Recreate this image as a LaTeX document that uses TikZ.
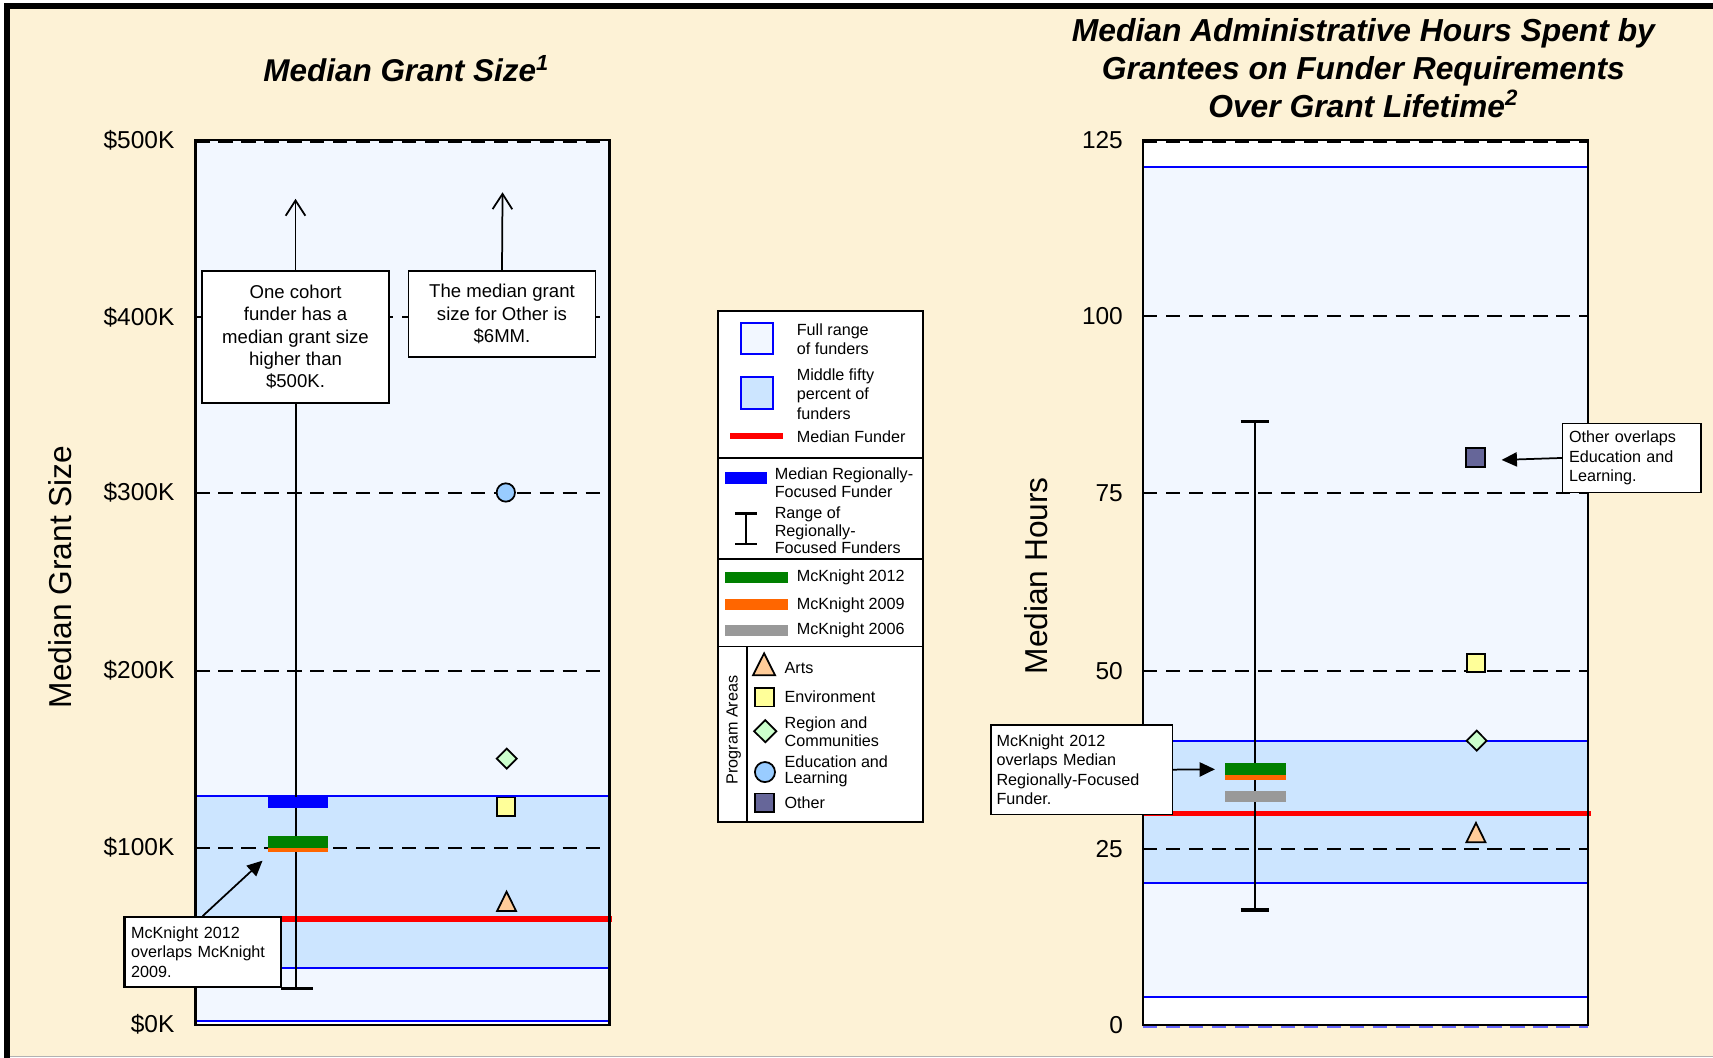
\documentclass[tikz,border=0pt]{standalone}
\usepackage{fontspec}
\setmainfont{Liberation Sans}
\usetikzlibrary{arrows.meta}
\definecolor{bgcream}{HTML}{FDF2D6}
\definecolor{lightfill}{HTML}{F2F7FF}
\definecolor{midfill}{HTML}{CCE5FF}
\definecolor{mkgreen}{HTML}{008000}
\definecolor{mkorange}{HTML}{FF6600}
\definecolor{mkgray}{HTML}{999999}
\definecolor{artsfill}{HTML}{FFCC99}
\definecolor{envfill}{HTML}{FFFF99}
\definecolor{regfill}{HTML}{CCFFCC}
\definecolor{edufill}{HTML}{99CCFF}
\definecolor{othfill}{HTML}{666699}
\begin{document}
\begin{tikzpicture}[x=0.5pt,y=-0.5pt,
  gridline/.style={black,line width=1pt,dash pattern=on 6.5pt off 4pt},
  bluebound/.style={blue,line width=0.9pt},
  medianline/.style={red,line width=2.4pt},
  rangeline/.style={black,line width=0.9pt},
  capline/.style={black,line width=1.6pt},
  plotframe/.style={black,line width=1.1pt},
  markerstyle/.style={draw=black,line width=0.8pt,line join=miter},
  ticklabel/.style={font=\fontsize{11.2}{13}\selectfont,anchor=east,inner sep=0pt},
  charttitle/.style={font=\fontsize{14.4}{17.25}\selectfont\bfseries\itshape,align=center,inner sep=0pt},
  axistitle/.style={font=\fontsize{14.5}{17}\selectfont,rotate=90,inner sep=0pt},
  legtext/.style={font=\fontsize{7.4}{8.75}\selectfont,anchor=west,align=left,inner sep=0pt},
  callbox/.style={draw=black,fill=white,line width=0.7pt,inner sep=0pt},
  notecenter/.style={callbox,align=center,font=\fontsize{8.5}{10.25}\selectfont},
  noteleft/.style={callbox,align=left,font=\fontsize{7.4}{8.8}\selectfont,inner xsep=3pt},
  callarrow/.style={black,line width=0.8pt,-{Triangle[length=7pt,width=6.5pt]}},
  openarrow/.style={black,line width=0.8pt,-{Straight Barb[length=7pt,width=9pt]}},
  legline/.style={black,line width=0.8pt}
]
\useasboundingbox (0,0) rectangle (1568,968);
% ---------- frame ----------
\fill[white] (0,0) rectangle (1568,968);
\fill[bgcream] (9,8) rectangle (1568,966.5);
\draw[gray!60,line width=0.8pt] (9,967) -- (1568,967);
\fill[black] (3.7,2.7) rectangle (1568,8.2);
\fill[black] (3.7,2.7) rectangle (9.2,968);

% ---------- titles ----------
\node[charttitle] (tL) at (372,63) {Median Grant Size\textsuperscript{1}};
\node[charttitle,font=\fontsize{14.55}{17.4}\selectfont\bfseries\itshape] (tR) at (1248,62) {Median Administrative Hours Spent by\\Grantees on Funder Requirements\\Over Grant Lifetime\textsuperscript{2}};

% ---------- left chart ----------
\fill[lightfill] (179,128) rectangle (558,938);
\fill[midfill] (179,729) rectangle (558,885.7);
\fill[white] (179,934.5) rectangle (558,938);
\draw[bluebound] (179,729) -- (558,729);
\draw[bluebound] (179,885.7) -- (558,885.7);
\draw[bluebound] (179,934.5) -- (558,934.5);
\foreach \yy in {130,290,451,614,776}{\draw[gridline] (179,\yy) -- (558,\yy);}
\draw[medianline] (179,841.2) -- (560,841.2);

\node[ticklabel] (l500) at (160,128) {\$500K};
\node[ticklabel] (l400) at (160,290) {\$400K};
\node[ticklabel] (l300) at (160,451) {\$300K};
\node[ticklabel] (l200) at (160,614) {\$200K};
\node[ticklabel] (l100) at (160,776) {\$100K};
\node[ticklabel] (l0) at (160,938) {\$0K};
\node[axistitle] (axL) at (55,528) {Median Grant Size};

% range of regionally-focused funders
\node[notecenter,minimum width=85.5pt,minimum height=60.5pt] (box1) at (270.5,308.5) {One cohort\\funder has a\\median grant size\\higher than\\\$500K.};
\coordinate (rangeLtop) at (270.5,182);
\coordinate (rangeLbot) at (270.5,905);
\draw[rangeline] (box1.south) -- (rangeLbot);
\draw[openarrow] (box1.north) -- (rangeLtop);
\draw[capline] (257.6,905) -- (286.4,905);

% bars
\fill[blue] (245.6,729.2) rectangle (300.5,739.9);
\fill[mkgreen] (245.6,765.2) rectangle (300.5,775.9);
\fill[mkorange] (245.6,775.9) rectangle (300.5,779.5);

% program area markers
\filldraw[markerstyle,fill=edufill] (463,450.8) circle[radius=4.2pt];
\filldraw[markerstyle,fill=regfill] (463.8,685.2) -- (473,694.4) -- (463.8,703.6) -- (454.6,694.4) -- cycle;
\filldraw[markerstyle,fill=envfill] (454.6,730.1) rectangle (471.1,746.9);
\filldraw[markerstyle,fill=artsfill] (463.7,816.2) -- (472.4,833.9) -- (455,833.9) -- cycle;

% note for Other
\node[notecenter,minimum width=85.5pt,minimum height=39.5pt] (box2) at (459.5,287.5) {The median grant\\size for Other is\\\$6MM.};
\coordinate (otherTop) at (460,176);
\draw[openarrow] (box2.north) -- (otherTop);

\draw[plotframe] (179,128) rectangle (558,938);

% McKnight overlap note
\node[noteleft,line width=1pt,text width=65.5pt,minimum height=32pt] (cbL) at (185.5,871.5) {McKnight 2012\\overlaps McKnight\\2009.};
\coordinate (cbLtip) at (240.3,787.8);
\draw[callarrow] (cbL.north) -- (cbLtip);

% ---------- legend ----------
\draw[legline,fill=white] (657,285) rectangle (845,752.5);
\draw[legline] (657,419) -- (845,419);
\draw[legline] (657,512) -- (845,512);
\draw[legline] (657,591.8) -- (845,591.8);
\draw[legline] (684,591.8) -- (684,752.5);

\filldraw[draw=blue,fill=lightfill,line width=0.8pt] (678,295.4) rectangle (707.9,324.1);
\filldraw[draw=blue,fill=midfill,line width=0.8pt] (678,345.2) rectangle (707.9,374.3);
\draw[red,line width=2.6pt] (668.6,398.9) -- (716.5,398.9);
\node[legtext,font=\fontsize{7.4}{8.7}\selectfont] (lgFull) at (729,310.2) {Full range\\of funders};
\node[legtext,font=\fontsize{7.4}{8.95}\selectfont] (lgMid) at (729,360.6) {Middle fifty\\percent of\\funders};
\node[legtext] (lgMed) at (729,399.9) {Median Funder};

\fill[blue] (664,432.4) rectangle (701.7,442.6);
\draw[legline,line width=1.1pt] (682.8,470.2) -- (682.8,498);
\draw[legline,line width=1.1pt] (673.2,470.2) -- (692.5,470.2);
\draw[legline,line width=1.1pt] (673.2,498) -- (692.5,498);
\node[legtext,font=\fontsize{7.4}{8.05}\selectfont] (lgReg) at (708.8,442) {Median Regionally-\\Focused Funder};
\node[legtext,font=\fontsize{7.4}{8.05}\selectfont] (lgRange) at (708.8,485.7) {Range of\\Regionally-\\Focused Funders};

\fill[mkgreen] (664,523.7) rectangle (721.2,533.9);
\fill[mkorange] (664,548.5) rectangle (721.2,558.6);
\fill[mkgray] (664,572.3) rectangle (721.2,582.5);
\node[legtext] (lg12) at (729,528.3) {McKnight 2012};
\node[legtext] (lg09) at (729,554) {McKnight 2009};
\node[legtext] (lg06) at (729,577.2) {McKnight 2006};

\node[legtext,anchor=center,rotate=90] (lgProg) at (671.7,668.2) {Program Areas};
\filldraw[markerstyle,fill=artsfill] (699.4,598) -- (709.5,618.1) -- (689.3,618.1) -- cycle;
\filldraw[markerstyle,fill=envfill] (691.2,629.6) rectangle (708.8,646.6);
\filldraw[markerstyle,fill=regfill] (700.5,659.2) -- (710.7,669.3) -- (700.5,679.4) -- (690.3,669.3) -- cycle;
\filldraw[markerstyle,fill=edufill] (700.2,706.7) circle[radius=4.6pt];
\filldraw[markerstyle,fill=othfill] (691.2,726.4) rectangle (708.8,743.4);
\node[legtext] (lgArts) at (717.8,611.3) {Arts};
\node[legtext] (lgEnv) at (717.8,637.6) {Environment};
\node[legtext,font=\fontsize{7.4}{7.9}\selectfont] (lgRgn) at (717.8,669.7) {Region and\\Communities};
\node[legtext,font=\fontsize{7.4}{7.6}\selectfont] (lgEdu) at (717.8,706) {Education and\\Learning};
\node[legtext] (lgOth) at (717.8,735) {Other};

% ---------- right chart ----------
\fill[white] (1046.5,128) rectangle (1453.8,938);
\fill[lightfill] (1046.5,152.6) rectangle (1453.8,912.9);
\fill[midfill] (1046.5,678.3) rectangle (1453.8,808.5);
\draw[bluebound] (1046.5,152.6) -- (1453.8,152.6);
\draw[bluebound] (1046.5,912.9) -- (1453.8,912.9);
\draw[bluebound] (1046.5,678.3) -- (1453.8,678.3);
\draw[bluebound] (1046.5,808.5) -- (1453.8,808.5);
\foreach \yy in {130,289.2,451.5,613.9,777.4}{\draw[gridline] (1046.5,\yy) -- (1453.8,\yy);}
\draw[gridline,blue!60] (1046.5,940) -- (1453.8,940);
\draw[medianline] (1046.5,744.6) -- (1456,744.6);

\node[ticklabel] (r125) at (1028.2,128) {125};
\node[ticklabel] (r100) at (1028.2,289.2) {100};
\node[ticklabel] (r75) at (1028.2,451.5) {75};
\node[ticklabel] (r50) at (1028.2,613.9) {50};
\node[ticklabel] (r25) at (1028.2,777.4) {25};
\node[ticklabel] (r0) at (1028.2,938) {0};
\node[axistitle] (axR) at (948,527) {Median Hours};

\draw[rangeline] (1148.7,386) -- (1148.7,833);
\draw[capline] (1135.6,386) -- (1161.8,386);
\draw[capline] (1135.6,833) -- (1161.8,833);

\fill[mkgreen] (1121.3,698.7) rectangle (1176.8,709.4);
\fill[mkorange] (1121.3,709.4) rectangle (1176.8,714.3);
\fill[mkgray] (1121.3,723.7) rectangle (1176.8,733.8);

\filldraw[markerstyle,fill=edufill] (1350.6,418.8) circle[radius=4.2pt];
\filldraw[markerstyle,fill=othfill] (1342,410.4) rectangle (1359.2,427.2);
\filldraw[markerstyle,fill=envfill] (1342.5,598.6) rectangle (1359.3,615.4);
\filldraw[markerstyle,fill=regfill] (1351.7,668.8) -- (1360.8,678) -- (1351.7,687.1) -- (1342.5,678) -- cycle;
\filldraw[markerstyle,fill=artsfill] (1351,753.2) -- (1359.7,770.9) -- (1342.3,770.9) -- cycle;

\draw[plotframe] (1046.5,128) rectangle (1453.8,938);

\node[noteleft,inner xsep=2.5pt,text width=78pt,minimum height=41pt,font=\fontsize{7.4}{8.9}\selectfont] (cbR1) at (990.2,704.5) {McKnight 2012\\overlaps Median\\Regionally-Focused\\Funder.};
\coordinate (cbR1tip) at (1112.1,704.2);
\draw[callarrow] (cbR1.east) -- (cbR1tip);

\node[noteleft,text width=57.3pt,minimum height=31.7pt,font=\fontsize{7.4}{8.9}\selectfont] (cbR2) at (1493.6,419.2) {Other overlaps\\Education and\\Learning.};
\coordinate (cbR2tip) at (1374.5,421);
\draw[callarrow] (cbR2.west) -- (cbR2tip);
\end{tikzpicture}
\end{document}
